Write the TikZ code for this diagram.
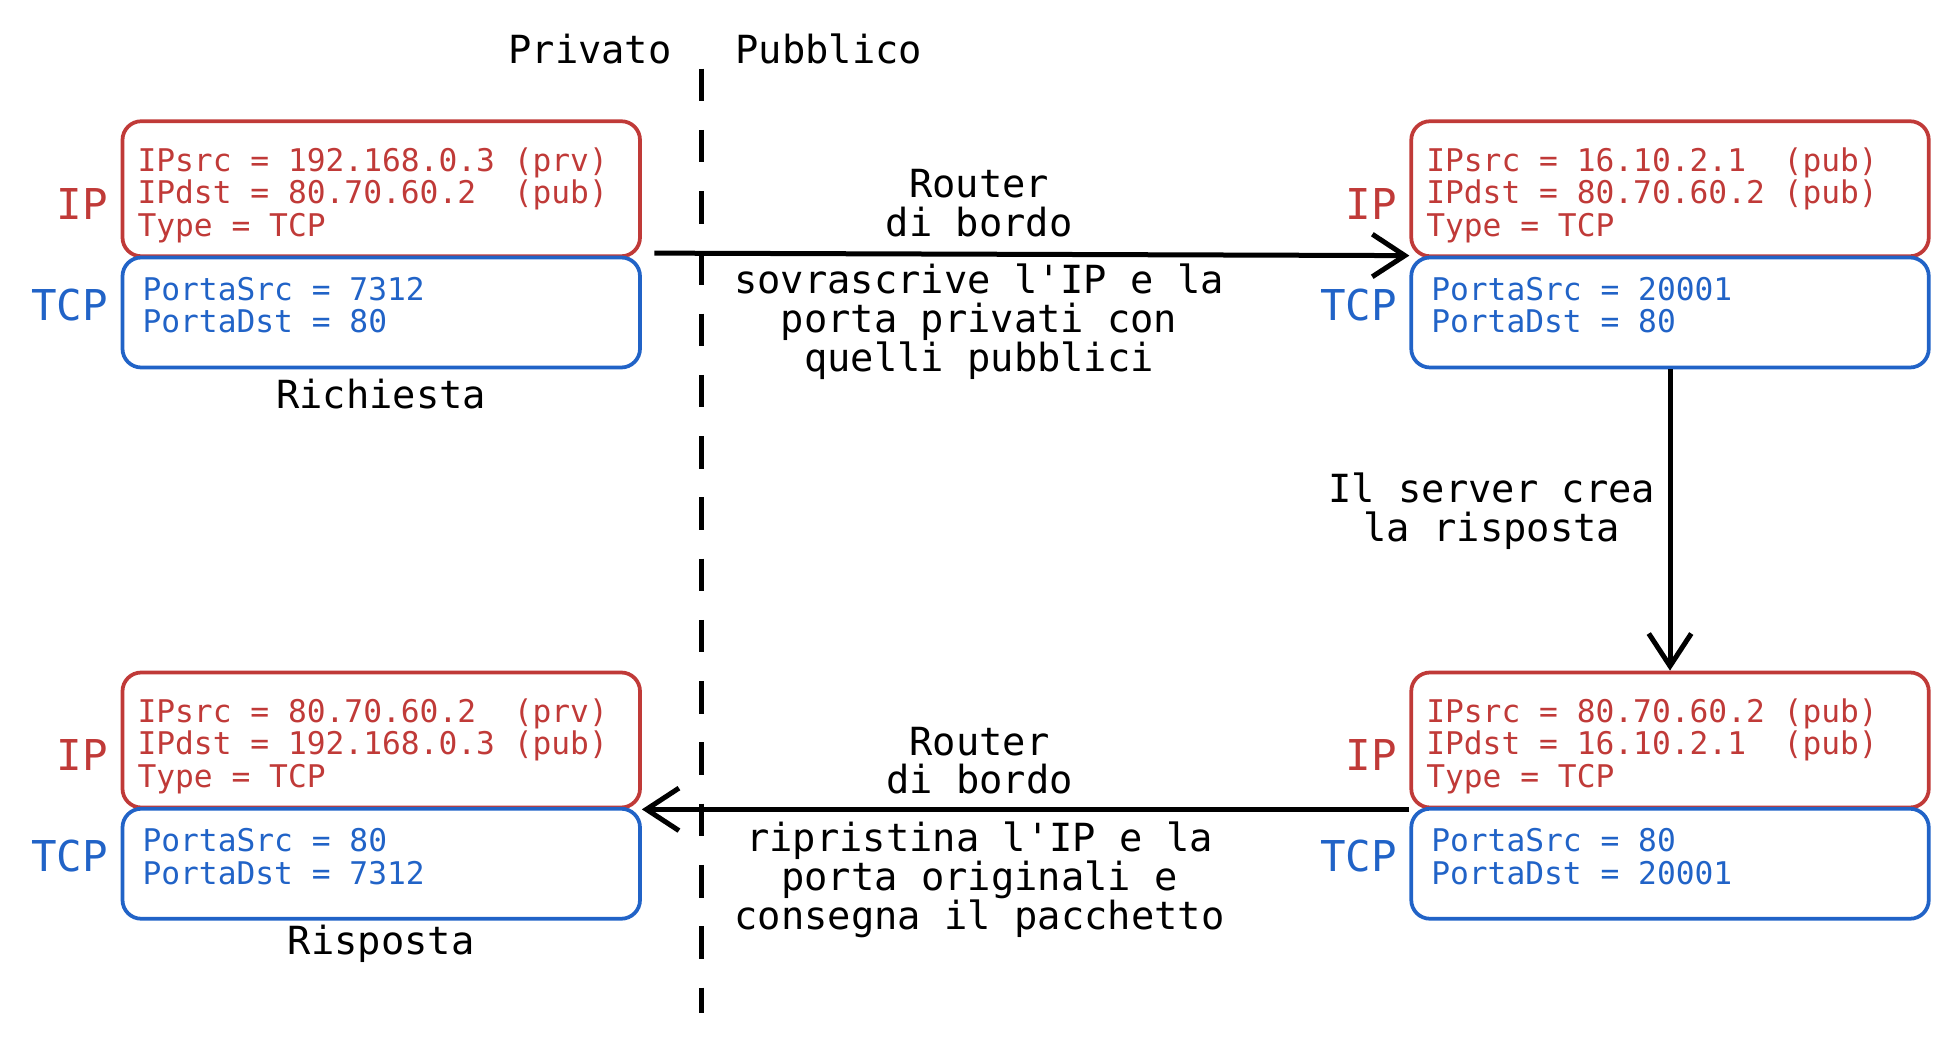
\documentclass[tikz,border=0pt]{standalone}
\usepackage{fontspec}
\setmonofont{DejaVu Sans Mono}[WordSpace={1,0,0}]
\usepackage{tikz}
\usetikzlibrary{arrows.meta,positioning}
\definecolor{ipred}{RGB}{192,58,56}
\definecolor{tcpblue}{RGB}{33,99,199}

\begin{document}
\begin{tikzpicture}[x=0.5pt,y=-0.5pt,->,>={Straight Barb[length=13pt,width=17pt]},
line width=2pt,node distance=6pt]
\tikzstyle{field}=[rectangle,draw,rounded corners=7.5pt,line width=1.5pt,align=left,font=\ttfamily\fontsize{12.5}{13}\selectfont]
\tikzstyle{ipbox}=[field,draw=ipred,text=ipred,text width=195pt,inner xsep=6pt,minimum height=54pt,
  execute at begin node={\spaceskip=0pt\xspaceskip=0pt\rule{0pt}{14.5pt}}]
\tikzstyle{tcpbox}=[field,draw=tcpblue,text=tcpblue,text width=191pt,inner xsep=8pt,minimum height=44pt,
  execute at begin node={\spaceskip=0pt\xspaceskip=0pt},execute at end node={\rule[-6pt]{0pt}{6pt}}]
\tikzstyle{tag}=[font=\ttfamily\fontsize{17}{17}\selectfont,inner sep=0pt]
\tikzstyle{note}=[font=\ttfamily\fontsize{15.5}{15.5}\selectfont,align=center,inner sep=0pt,text=black]

\useasboundingbox (0,0) rectangle (1568,838);

\coordinate (bordertop) at (561,55);
\coordinate (borderbot) at (561,810);
\draw[-,dash pattern=on 13pt off 11.5pt] (bordertop) -- (borderbot);
\node[note] (privlabel) at (472,39) {Privato};
\node[note] (publabel) at (663,39) {Pubblico};

\node[ipbox] (reqip) at (305,151) {IPsrc = 192.168.0.3 (prv)\\IPdst = 80.70.60.2~ (pub)\\Type = TCP};
\node[tcpbox] (reqtcp) [below=-1pt of reqip] {PortaSrc = 7312\\PortaDst = 80};
\node[tag,text=ipred] (reqiptag) [left=4pt of reqip,yshift=-6pt] {IP};
\node[tag,text=tcpblue] (reqtcptag) [left=4pt of reqtcp,yshift=3pt] {TCP};
\node[note] (reqcap) at (305,315) {Richiesta};

\node[ipbox] (natip) at (1336,151) {IPsrc = 16.10.2.1~ (pub)\\IPdst = 80.70.60.2 (pub)\\Type = TCP};
\node[tcpbox] (nattcp) [below=-1pt of natip] {PortaSrc = 20001\\PortaDst = 80};
\node[tag,text=ipred] (natiptag) [left=4pt of natip,yshift=-6pt] {IP};
\node[tag,text=tcpblue] (nattcptag) [left=4pt of nattcp,yshift=3pt] {TCP};

\node[ipbox] (srvip) at (1336,592) {IPsrc = 80.70.60.2 (pub)\\IPdst = 16.10.2.1~ (pub)\\Type = TCP};
\node[tcpbox] (srvtcp) [below=-1pt of srvip] {PortaSrc = 80\\PortaDst = 20001};
\node[tag,text=ipred] (srviptag) [left=4pt of srvip,yshift=-6pt] {IP};
\node[tag,text=tcpblue] (srvtcptag) [left=4pt of srvtcp,yshift=3pt] {TCP};

\node[ipbox] (ansip) at (305,592) {IPsrc = 80.70.60.2~ (prv)\\IPdst = 192.168.0.3 (pub)\\Type = TCP};
\node[tcpbox] (anstcp) [below=-1pt of ansip] {PortaSrc = 80\\PortaDst = 7312};
\node[tag,text=ipred] (ansiptag) [left=4pt of ansip,yshift=-6pt] {IP};
\node[tag,text=tcpblue] (anstcptag) [left=4pt of anstcp,yshift=3pt] {TCP};
\node[note] (anscap) at (305,755) {Risposta};

\draw ([xshift=5pt,yshift=2pt]reqip.south east) -- node[note,pos=0.43,above=6pt] {Router\\di bordo}
  node[note,pos=0.43,below=3pt] {sovrascrive l'IP e la\\porta privati con\\quelli pubblici} ([yshift=1pt]natip.south west);
\draw (nattcp) -- node[note,pos=0.47,left=5pt] {Il server crea\\la risposta} (srvip);
\draw (srvip.south west) -- node[note,pos=0.56,above=5pt] {Router\\di bordo}
  node[note,pos=0.56,below=4pt] {ripristina l'IP e la\\porta originali e\\consegna il pacchetto} (ansip.south east);
\end{tikzpicture}
\end{document}
